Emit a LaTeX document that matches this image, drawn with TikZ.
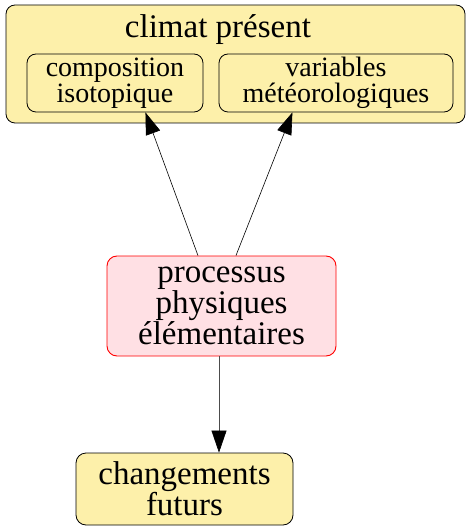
\documentclass[tikz,border=0pt]{standalone}
\usepackage{fontspec}
\setmainfont{Liberation Serif}
\usepackage{xcolor}
\usetikzlibrary{arrows.meta,positioning}
\definecolor{boxyellow}{RGB}{253,240,170}
\definecolor{boxpink}{RGB}{255,224,228}
\tikzset{
  cluster/.style ={rectangle,rounded corners=9pt,draw,fill=boxyellow,line width=0.8pt},
  leaf/.style    ={rectangle,rounded corners=9pt,draw,line width=0.8pt,align=center,inner sep=0pt,
                   font=\fontsize{28}{26}\selectfont},
  yellowbox/.style={rectangle,rounded corners=10pt,draw,fill=boxyellow,line width=0.8pt,align=center,
                   inner sep=0pt,font=\fontsize{33}{31}\selectfont},
  redbox/.style  ={rectangle,rounded corners=10pt,draw=red,fill=boxpink,line width=0.9pt,align=center,
                   inner sep=0pt,font=\fontsize{33}{31}\selectfont},
  title/.style   ={inner sep=0pt,font=\fontsize{33}{31}\selectfont},
  edge/.style    ={-{Triangle[length=22pt,width=15pt,black]},line width=0.6pt},
}
\begin{document}
\begin{tikzpicture}[x=1pt,y=-1pt]
  \useasboundingbox (0,0) rectangle (466,526);
  \node[cluster,minimum width=459pt,minimum height=118pt] (present) at (235.5,64){};
  \node[title] (ptitle) at (218,30){climat présent};
  \node[leaf,minimum width=176pt,minimum height=58pt] (comp) at (115,83){composition\\isotopique};
  \node[leaf,minimum width=234pt,minimum height=58pt] (meteo) at (336,83){variables\\météorologiques};
  \node[redbox,minimum width=229pt,minimum height=100pt] (proc) at (221.5,306){processus\\physiques\\élémentaires};
  \node[yellowbox,minimum width=217pt,minimum height=72pt] (futur) at (184.5,489){changements\\futurs};
  % edges
  \draw[edge] (proc.115) -- (comp.-44);
  \draw[edge] (proc.74) -- (meteo.-146);
  \draw[edge,black!70] (proc.south -| 219,0) -- (futur.north -| 219,0);
\end{tikzpicture}
\end{document}
